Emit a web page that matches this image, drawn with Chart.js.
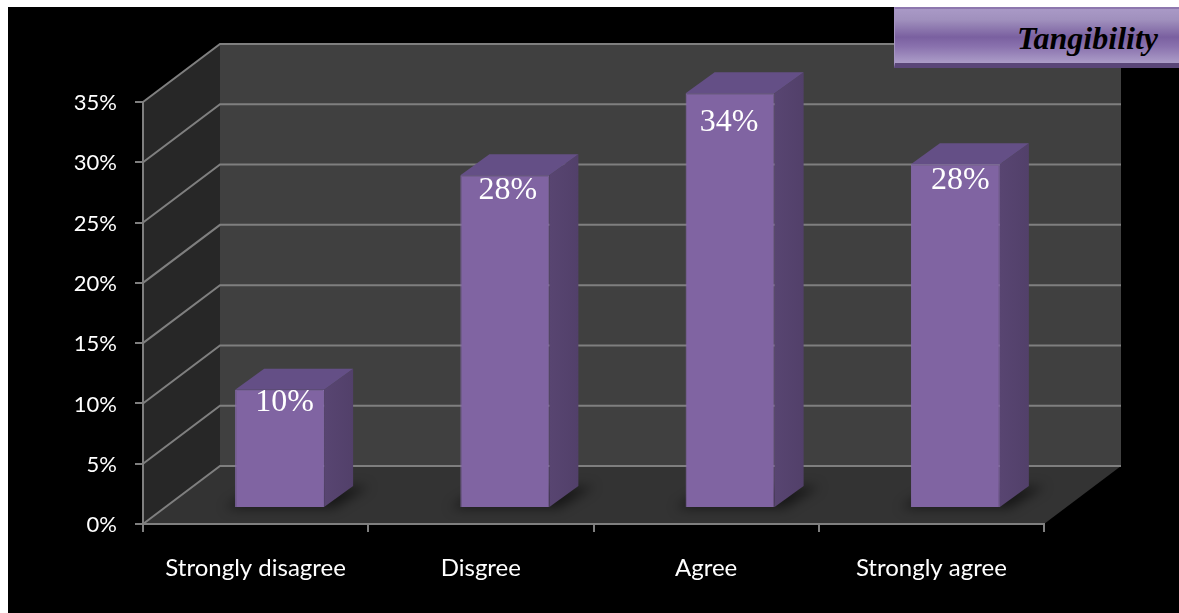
<!DOCTYPE html>
<html>
<head>
<meta charset="utf-8">
<title>Tangibility</title>
<script src="https://cdn.jsdelivr.net/npm/chart.js@4/dist/chart.umd.min.js"></script>
<style>
  html, body { margin: 0; background: #fff; overflow: hidden; }
  #bg { position: absolute; left: 8px; top: 7px; width: 1171px; height: 606px; background: #000; }
  #barChart { position: absolute; left: 0; top: 0; }
  #banner {
    position: absolute; left: 894px; top: 7px; width: 285px; height: 54px;
    background: linear-gradient(#a999c6 0%, #a090bd 20%, #7a60a0 52%, #8a72ae 70%, #ac9dc8 100%);
    border-top: 2px solid #8d77ae; border-left: 1px solid #a594c2; border-bottom: 5px solid #5a4678;
    font: italic bold 32px "Liberation Serif", serif; color: #000;
    line-height: 58px; text-align: right; white-space: nowrap;
  }
  #banner span { margin-right: 22px; }
</style>
</head>
<body>
<div id="bg"></div>
<canvas id="barChart" width="1179" height="613"></canvas>
<div id="banner"><span>Tangibility</span></div>
<script>
var categories = ['Strongly disagree', 'Disgree', 'Agree', 'Strongly agree'];
var barHeights = [9.8, 27.6, 34.4, 28.5];
var valueLabels = ['10%', '28%', '34%', '28%'];
var yTickValues = [0, 5, 10, 15, 20, 25, 30, 35];

// where each value label sits relative to the top middle of its bar
var labelNudgeX = [5, 3, -1, 5];
var labelNudgeY = [13, 15, 29, 16];

// depth of the box the chart sits in, and of the bars inside it
var wallDx = 77, wallDy = 58;
var barShiftX = 24, barShiftY = 16;
var barDx = 29, barDy = 21;
var gridColor = '#7f7f7f';

function poly(ctx, pts, fill) {
  ctx.beginPath();
  ctx.moveTo(pts[0][0], pts[0][1]);
  for (var i = 1; i < pts.length; i++) ctx.lineTo(pts[i][0], pts[i][1]);
  ctx.closePath();
  ctx.fillStyle = fill;
  ctx.fill();
}

// walls, floor and the gridlines on them
var box3d = {
  id: 'box3d',
  beforeDraw: function(chart) {
    var ctx = chart.ctx, a = chart.chartArea, y = chart.scales.y;
    poly(ctx, [[a.left, a.top], [a.left + wallDx, a.top - wallDy], [a.left + wallDx, a.bottom - wallDy], [a.left, a.bottom]], '#272727');
    poly(ctx, [[a.left + wallDx, a.top - wallDy], [a.right + wallDx, a.top - wallDy], [a.right + wallDx, a.bottom - wallDy], [a.left + wallDx, a.bottom - wallDy]], '#404040');
    poly(ctx, [[a.left, a.bottom], [a.left + wallDx, a.bottom - wallDy], [a.right + wallDx, a.bottom - wallDy], [a.right, a.bottom]], '#333333');
    ctx.strokeStyle = gridColor;
    ctx.lineWidth = 2;
    yTickValues.forEach(function(v) {
      var py = y.getPixelForValue(v);
      ctx.beginPath();
      ctx.moveTo(a.left, py);
      ctx.lineTo(a.left + wallDx, py - wallDy);
      ctx.lineTo(a.right + wallDx, py - wallDy);
      ctx.stroke();
    });
  },
  beforeDatasetsDraw: function(chart) {
    var ctx = chart.ctx;
    // soft shadow under each bar
    chart.getDatasetMeta(0).data.forEach(function(bar) {
      var l = bar.x - bar.width / 2 + barShiftX, r = bar.x + bar.width / 2 + barShiftX, b = bar.base - barShiftY;
      ctx.save();
      ctx.filter = 'blur(6px)';
      poly(ctx, [[l - 10, b + 1], [l + 14, b - 14], [r + barDx + 16, b - barDy], [r + 10, b + 1]], 'rgba(0,0,0,0.55)');
      ctx.restore();
    });
    ctx.save();
    ctx.translate(barShiftX, -barShiftY);
  },
  afterDatasetsDraw: function(chart) {
    var ctx = chart.ctx;
    ctx.restore();
    chart.getDatasetMeta(0).data.forEach(function(bar, i) {
      var l = bar.x - bar.width / 2 + barShiftX, r = bar.x + bar.width / 2 + barShiftX;
      var t = bar.y - barShiftY, b = bar.base - barShiftY;
      var side = ctx.createLinearGradient(r, 0, r + barDx, 0);
      side.addColorStop(0, '#584571');
      side.addColorStop(1, '#52406a');
      poly(ctx, [[r, t], [r + barDx, t - barDy], [r + barDx, b - barDy], [r, b]], side);
      poly(ctx, [[l, t], [l + barDx, t - barDy], [r + barDx, t - barDy], [r, t]], '#644f86');
      ctx.fillStyle = '#fff';
      ctx.font = '32px "Liberation Serif", serif';
      ctx.textAlign = 'center';
      ctx.textBaseline = 'middle';
      ctx.fillText(valueLabels[i], bar.x + barShiftX + labelNudgeX[i], t + labelNudgeY[i]);
    });
  }
};

var barChartCanvas = document.getElementById('barChart').getContext('2d');

new Chart(barChartCanvas, {
  type: 'bar',
  data: {
    labels: categories,
    datasets: [{
      data: barHeights,
      backgroundColor: '#8064a2',
      borderColor: '#866bab',
      borderWidth: 1,
      barPercentage: 0.395,
      categoryPercentage: 1
    }]
  },
  options: {
    responsive: false,
    animation: false,
    layout: { padding: { top: 102, right: 135, left: 0, bottom: 0 } },
    scales: {
      x: {
        afterFit: function(scale) { scale.height = 89; },
        grid: { drawOnChartArea: false, color: gridColor, lineWidth: 2, tickLength: 8 },
        border: { color: gridColor, width: 2 },
        ticks: { color: '#fff', font: { family: 'Lato', size: 24 }, padding: 22, maxRotation: 0 }
      },
      y: {
        min: 0,
        max: 35,
        afterFit: function(scale) { scale.width = 143; },
        grid: { drawOnChartArea: false, color: gridColor, lineWidth: 2, tickLength: 8 },
        border: { color: gridColor, width: 2 },
        ticks: {
          stepSize: 5,
          color: '#fff',
          font: { family: 'Lato', size: 22 },
          padding: 18,
          labelOffset: 1,
          callback: function(value) { return value + '%'; }
        }
      }
    },
    plugins: {
      legend: { display: false },
      tooltip: { enabled: false }
    }
  },
  plugins: [box3d]
});
</script>
</body>
</html>
